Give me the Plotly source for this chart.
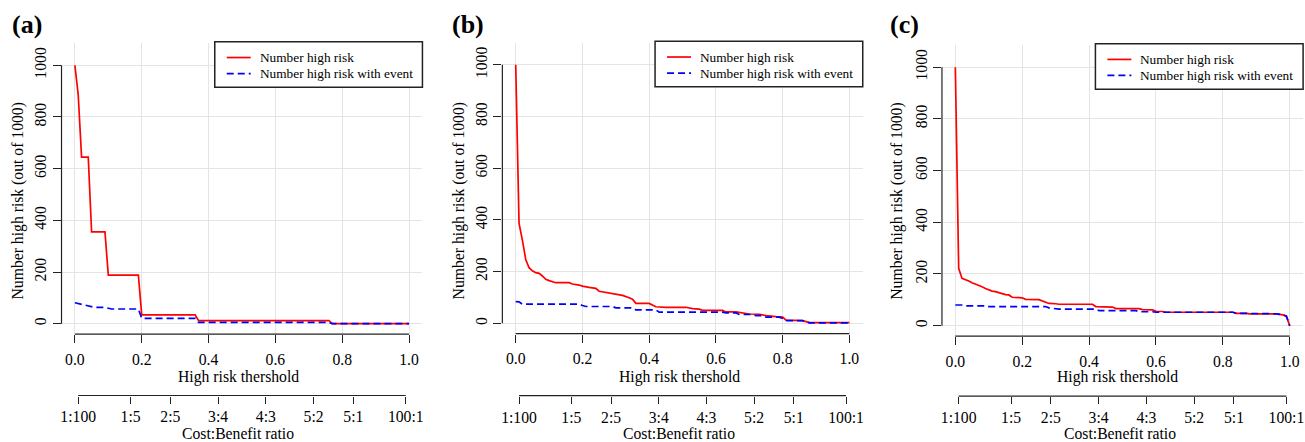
import plotly.graph_objects as go

W, H = 1305, 442
FONT = "Liberation Serif, Times New Roman, Times, DejaVu Serif, serif"

# ---- data: clinical impact curves (number high risk out of 1000) ----
a_risk_x = [0, 0.01, 0.02, 0.04, 0.05, 0.09, 0.10, 0.19, 0.20, 0.36, 0.37, 0.76, 0.77, 1.0]
a_risk_y = [1000, 885, 645, 645, 355, 355, 188, 188, 34, 34, 12, 12, 0, 0]
a_event_x = [0, 0.01, 0.02, 0.03, 0.04, 0.05, 0.06, 0.09, 0.10, 0.11, 0.19, 0.20, 0.36, 0.37, 0.76, 0.77, 1.0]
a_event_y = [81, 78, 74, 70, 68, 66, 63, 63, 60, 57, 57, 21, 21, 5, 5, 0, 0]

b_risk_x = [0, 0.01, 0.02, 0.03, 0.04, 0.05, 0.06, 0.07, 0.08, 0.09, 0.10, 0.12, 0.16, 0.17,
            0.19, 0.20, 0.22, 0.24, 0.25, 0.27, 0.28, 0.30, 0.32, 0.34, 0.35, 0.36, 0.40, 0.42,
            0.45, 0.51, 0.53, 0.55, 0.56, 0.62, 0.63, 0.66, 0.68, 0.70, 0.73, 0.75, 0.78, 0.80,
            0.81, 0.86, 0.88, 1.0]
b_risk_y = [1000, 386, 322, 247, 215, 203, 196, 193, 183, 170, 165, 157, 157, 152,
            148, 144, 139, 135, 124, 120, 116, 113, 108, 99, 93, 77, 77, 64,
            62, 62, 57, 55, 50, 50, 44, 44, 40, 36, 35, 30, 26, 24,
            12, 10, 3, 3]
b_event_x = [0, 0.01, 0.02, 0.19, 0.20, 0.21, 0.29, 0.30, 0.35, 0.36, 0.42, 0.43, 0.62, 0.63,
             0.66, 0.67, 0.71, 0.72, 0.74, 0.75, 0.79, 0.80, 0.81, 0.86, 0.88, 1.0]
b_event_y = [84, 83, 74, 74, 69, 65, 65, 60, 60, 52, 52, 43, 43, 40,
             40, 34, 34, 30, 30, 24, 24, 19, 10, 10, 2, 2]

c_risk_x = [0, 0.01, 0.02, 0.03, 0.04, 0.05, 0.06, 0.07, 0.08, 0.09, 0.10, 0.11, 0.12, 0.13,
            0.14, 0.15, 0.16, 0.17, 0.20, 0.21, 0.25, 0.26, 0.27, 0.28, 0.30, 0.31, 0.41, 0.42,
            0.47, 0.48, 0.55, 0.56, 0.59, 0.60, 0.62, 0.63, 0.83, 0.84, 0.87, 0.88, 0.96, 0.97,
            0.98, 0.99, 1.0]
c_risk_y = [1000, 222, 183, 179, 173, 166, 162, 157, 151, 144, 138, 134, 132, 128,
            123, 120, 119, 110, 108, 102, 101, 97, 93, 86, 85, 83, 83, 74,
            72, 66, 66, 62, 61, 56, 55, 52, 52, 48, 48, 46, 46, 45,
            42, 37, 0]
c_event_x = [0, 0.02, 0.03, 0.09, 0.10, 0.27, 0.28, 0.30, 0.31, 0.42, 0.43, 0.54, 0.55, 0.59,
             0.60, 0.83, 0.84, 0.96, 0.97, 0.98, 0.99, 1.0]
c_event_y = [80, 80, 77, 77, 74, 74, 69, 67, 64, 64, 58, 58, 54, 54,
             52, 52, 48, 46, 45, 42, 37, 0]

x_ticks = [0, 0.2, 0.4, 0.6, 0.8, 1.0]
x_tick_text = ["0.0", "0.2", "0.4", "0.6", "0.8", "1.0"]
y_ticks = [0, 200, 400, 600, 800, 1000]
cb_labels = ["1:100", "1:5", "2:5", "3:4", "4:3", "5:2", "5:1", "100:1"]
cb_cost = [1, 1, 2, 3, 4, 5, 5, 100]
cb_benefit = [100, 5, 5, 4, 3, 2, 1, 1]
cb_ticks = [c / (c + b) for c, b in zip(cb_cost, cb_benefit)]

legend_names = ["Number high risk", "Number high risk with event"]
panel_labels = ["(a)", "(b)", "(c)"]
x_title = "High risk thershold"
cb_title = "Cost:Benefit ratio"
y_title = "Number high risk (out of 1000)"

series = [
    (a_risk_x, a_risk_y, a_event_x, a_event_y),
    (b_risk_x, b_risk_y, b_event_x, b_event_y),
    (c_risk_x, c_risk_y, c_event_x, c_event_y),
]

# ---- panel geometry (pixels): where x=0/1 and y=0/1000 fall ----
geom = [
    dict(x0=74.0, x1=408.7, y0=323.7, y1000=65.3, cb_y=395.5, xt=(237.5, 377.3), cbt=(237.2, 433.5),
         yt=(16.7, 200.8), lab=(26.0, 24.2)),
    dict(x0=515.5, x1=849.7, y0=323.3, y1000=64.8, cb_y=395.7, xt=(679.2, 377.3), cbt=(679.0, 433.5),
         yt=(458.3, 200.8), lab=(467.5, 24.2)),
    dict(x0=955.8, x1=1290.7, y0=325.7, y1000=67.2, cb_y=396.2, xt=(1118.3, 377.3), cbt=(1120.3, 433.5),
         yt=(897.3, 200.8), lab=(905.0, 24.2)),
]
X_RANGE = [-0.04, 1.04]
Y_RANGE = [-40, 1085]

RED = "#ff0000"
BLUE = "#0000ff"
DASH = "7px,4px"
LW = 1.7
AXC = "#222222"
GRID = "#e4e4e4"
TICK_FONT = dict(family=FONT, size=15.7, color="#000000")


def px_x(p):
    return p / W


def px_y(p):
    return 1 - p / H


fig = go.Figure()
shapes = []
annotations = []
layout = dict(width=W, height=H, margin=dict(l=0, r=0, t=0, b=0),
              paper_bgcolor="white", plot_bgcolor="white", showlegend=False)

for i, (g, (rx, ry, ex, ey)) in enumerate(zip(geom, series)):
    n = i + 1
    xa, ya, xcb = f"x{n}" if n > 1 else "x", f"y{n}" if n > 1 else "y", f"x{n + 3}"
    xkey = "xaxis" if n == 1 else f"xaxis{n}"
    ykey = "yaxis" if n == 1 else f"yaxis{n}"

    sx = g["x1"] - g["x0"]
    sy = (g["y0"] - g["y1000"]) / 1000.0
    left = g["x0"] + X_RANGE[0] * sx
    right = g["x0"] + X_RANGE[1] * sx
    bottom = g["y0"] - Y_RANGE[0] * sy
    top = g["y0"] - Y_RANGE[1] * sy

    layout[xkey] = dict(domain=[px_x(left), px_x(right)], range=X_RANGE, anchor=ya,
                        tickmode="array", tickvals=x_ticks, ticktext=x_tick_text,
                        ticks="outside", ticklen=8, tickwidth=1.2, tickcolor=AXC,
                        ticklabelstandoff=3,
                        showline=False, zeroline=False, showgrid=True,
                        gridcolor=GRID, gridwidth=1.2, tickfont=TICK_FONT)
    layout[ykey] = dict(domain=[px_y(bottom), px_y(top)], range=Y_RANGE, anchor=xa,
                        tickmode="array", tickvals=y_ticks, tickangle=-90,
                        ticks="outside", ticklen=8, tickwidth=1.2, tickcolor=AXC,
                        showline=False, zeroline=False, showgrid=True,
                        gridcolor=GRID, gridwidth=1.2, tickfont=TICK_FONT)
    layout[f"xaxis{n + 3}"] = dict(overlaying=xa, anchor="free", position=px_y(g["cb_y"]),
                                   range=X_RANGE, tickmode="array", tickvals=cb_ticks,
                                   ticktext=cb_labels, ticks="outside", ticklen=7,
                                   tickwidth=1.2, tickcolor=AXC, showline=False,
                                   zeroline=False, showgrid=False, tickfont=TICK_FONT)

    # curves
    fig.add_trace(go.Scatter(x=rx, y=ry, mode="lines", xaxis=xa, yaxis=ya,
                             line=dict(color=RED, width=LW), name=legend_names[0],
                             hoverinfo="skip"))
    fig.add_trace(go.Scatter(x=ex, y=ey, mode="lines", xaxis=xa, yaxis=ya,
                             line=dict(color=BLUE, width=LW, dash=DASH),
                             name=legend_names[1], hoverinfo="skip"))
    # carrier for the cost:benefit axis
    fig.add_trace(go.Scatter(x=cb_ticks, y=[0] * len(cb_ticks), mode="lines", xaxis=xcb,
                             yaxis=ya, line=dict(width=0, color="rgba(0,0,0,0)"),
                             hoverinfo="skip", showlegend=False))

    # axis lines spanning the tick range only
    shapes.append(dict(type="line", xref=xa, yref=f"{ya} domain", x0=0, x1=1, y0=0, y1=0,
                       line=dict(color=AXC, width=1.2)))
    shapes.append(dict(type="line", xref=f"{xa} domain", yref=ya, x0=0, x1=0, y0=0, y1=1000,
                       line=dict(color=AXC, width=1.2)))
    shapes.append(dict(type="line", xref=xcb, yref="paper", x0=cb_ticks[0], x1=cb_ticks[-1],
                       y0=px_y(g["cb_y"]), y1=px_y(g["cb_y"]), line=dict(color=AXC, width=1.2)))

    # legend box in the top-right corner of the plot region
    lw, lh = 208.0, 45.5
    lx0, ly0 = right - lw, top - 1.5
    shapes.append(dict(type="rect", xref="paper", yref="paper",
                       x0=px_x(lx0), x1=px_x(right), y0=px_y(ly0 + lh), y1=px_y(ly0),
                       line=dict(color=AXC, width=1.5), fillcolor="white", layer="above"))
    for k, (col, dash) in enumerate([(RED, "solid"), (BLUE, DASH)]):
        yy = ly0 + 15.7 + 16.0 * k
        shapes.append(dict(type="line", xref="paper", yref="paper",
                           x0=px_x(lx0 + 12), x1=px_x(lx0 + 36), y0=px_y(yy), y1=px_y(yy),
                           line=dict(color=col, width=LW, dash=dash), layer="above"))
        annotations.append(dict(text=legend_names[k], xref="paper", yref="paper",
                                x=px_x(lx0 + 43), y=px_y(yy), xanchor="left", yanchor="middle",
                                showarrow=False, font=dict(family=FONT, size=13.3, color="#000")))

    # titles and panel label
    annotations.append(dict(text=x_title, xref="paper", yref="paper", x=px_x(g["xt"][0]),
                            y=px_y(g["xt"][1]), xanchor="center", yanchor="middle",
                            showarrow=False, font=dict(family=FONT, size=15.7, color="#000")))
    annotations.append(dict(text=cb_title, xref="paper", yref="paper", x=px_x(g["cbt"][0]),
                            y=px_y(g["cbt"][1]), xanchor="center", yanchor="middle",
                            borderpad=0, showarrow=False,
                            font=dict(family=FONT, size=15.7, color="#000")))
    annotations.append(dict(text=y_title, xref="paper", yref="paper", x=px_x(g["yt"][0]),
                            y=px_y(g["yt"][1]), xanchor="center", yanchor="middle",
                            textangle=-90, showarrow=False,
                            font=dict(family=FONT, size=15.7, color="#000")))
    annotations.append(dict(text=f"<b>{panel_labels[i]}</b>", xref="paper", yref="paper",
                            x=px_x(g["lab"][0]), y=px_y(g["lab"][1]), xanchor="center",
                            yanchor="middle", showarrow=False,
                            font=dict(family=FONT, size=26, color="#000")))

layout["shapes"] = shapes
layout["annotations"] = annotations
fig.update_layout(**layout)
fig.write_html("out.html")
